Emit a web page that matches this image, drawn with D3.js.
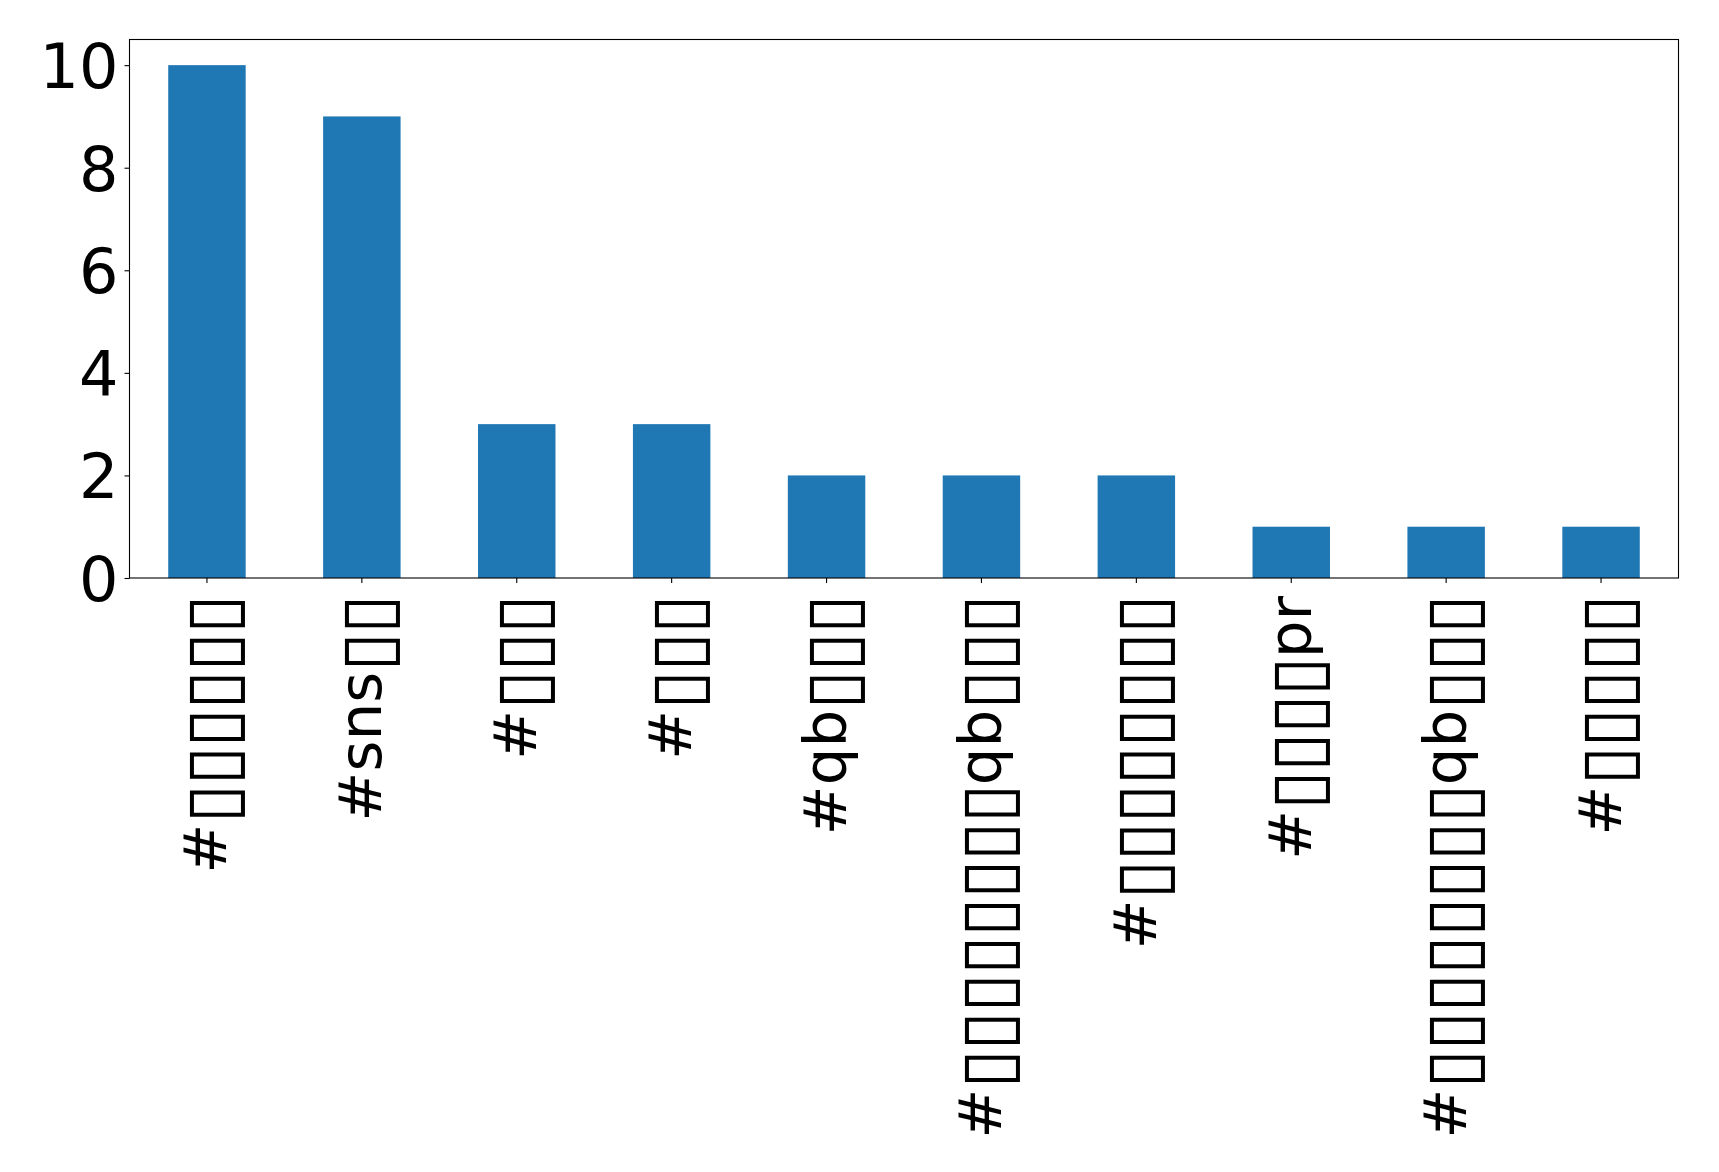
<!DOCTYPE html>
<html><head><meta charset="utf-8">
<script src="https://cdn.jsdelivr.net/npm/d3@7"></script>
<style>body{margin:0;background:#fff}</style>
</head><body>
<svg id="chart" width="1719" height="1172"></svg>
<script>
// Data (labels rendered as shown in the reference; missing glyphs drawn as boxes)
const categories = ["#▯▯▯▯▯▯","#sns▯▯","#▯▯▯","#▯▯▯","#qb▯▯▯","#▯▯▯▯▯▯▯▯qb▯▯▯","#▯▯▯▯▯▯▯▯","#▯▯▯▯pr","#▯▯▯▯▯▯▯▯qb▯▯▯","#▯▯▯▯▯"];
const counts = [10, 9, 3, 3, 2, 2, 2, 1, 1, 1];
const yTicks = [0, 2, 4, 6, 8, 10];

const svg = d3.select("#chart");
const L = 129.5, R = 1678.5, T = 39.5, B = 578;
const FONT = "DejaVu Sans";
const BOX = "▯";

const x = d3.scaleBand().domain(d3.range(categories.length)).range([L, R]).paddingInner(0.5).paddingOuter(0.25);
const y = d3.scaleLinear().domain([0, 10.5]).range([B, T]);

// bars
svg.append("g").selectAll("rect").data(counts).join("rect")
  .attr("x", (d, i) => x(i)).attr("width", x.bandwidth())
  .attr("y", d => y(d)).attr("height", d => y(0) - y(d))
  .attr("fill", "#1f77b4");

// y axis
const yAxis = svg.append("g").attr("transform", `translate(${L},0)`)
  .call(d3.axisLeft(y).tickValues(yTicks).tickSize(5).tickPadding(6).tickFormat(d3.format("d")));
yAxis.select(".domain").remove();
yAxis.selectAll("line").attr("stroke", "#000").attr("stroke-width", 1.1);
yAxis.selectAll("text").attr("font-family", FONT).attr("font-size", 62).attr("fill", "#000").attr("dy", "0.36em");

// x axis ticks
const xAxis = svg.append("g").attr("transform", `translate(0,${B})`)
  .call(d3.axisBottom(x).tickSize(5).tickFormat(""));
xAxis.select(".domain").remove();
xAxis.selectAll("line").attr("stroke", "#000").attr("stroke-width", 1.1);

// x labels, rotated 90°
const fs = 59.5, boxFs = 72, boxLS = -1.7, boxShift = 10;
const lab = svg.append("g");
categories.forEach((c, i) => {
  const cx = x(i) + x.bandwidth() / 2;
  const t = lab.append("text")
    .attr("transform", `translate(${cx},596) rotate(-90)`)
    .attr("text-anchor", "end")
    .attr("font-family", FONT).attr("font-size", fs).attr("fill", "#000")
    .attr("y", 19.5);
  const runs = [];
  for (const ch of c) {
    const isBox = ch === BOX;
    if (runs.length && runs[runs.length - 1].box === isBox) runs[runs.length - 1].s += ch;
    else runs.push({ box: isBox, s: ch });
  }
  let shifted = false;
  runs.forEach(r => {
    const ts = t.append("tspan").text(r.s);
    if (r.box) {
      ts.attr("font-size", boxFs).attr("letter-spacing", boxLS);
      if (!shifted) { ts.attr("dy", boxShift); shifted = true; }
    } else if (shifted) {
      ts.attr("dy", -boxShift); shifted = false;
    }
  });
});

// frame
svg.append("rect").attr("x", L).attr("y", T).attr("width", R - L).attr("height", B - T)
  .attr("fill", "none").attr("stroke", "#000").attr("stroke-width", 1.1);
</script>
</body></html>
